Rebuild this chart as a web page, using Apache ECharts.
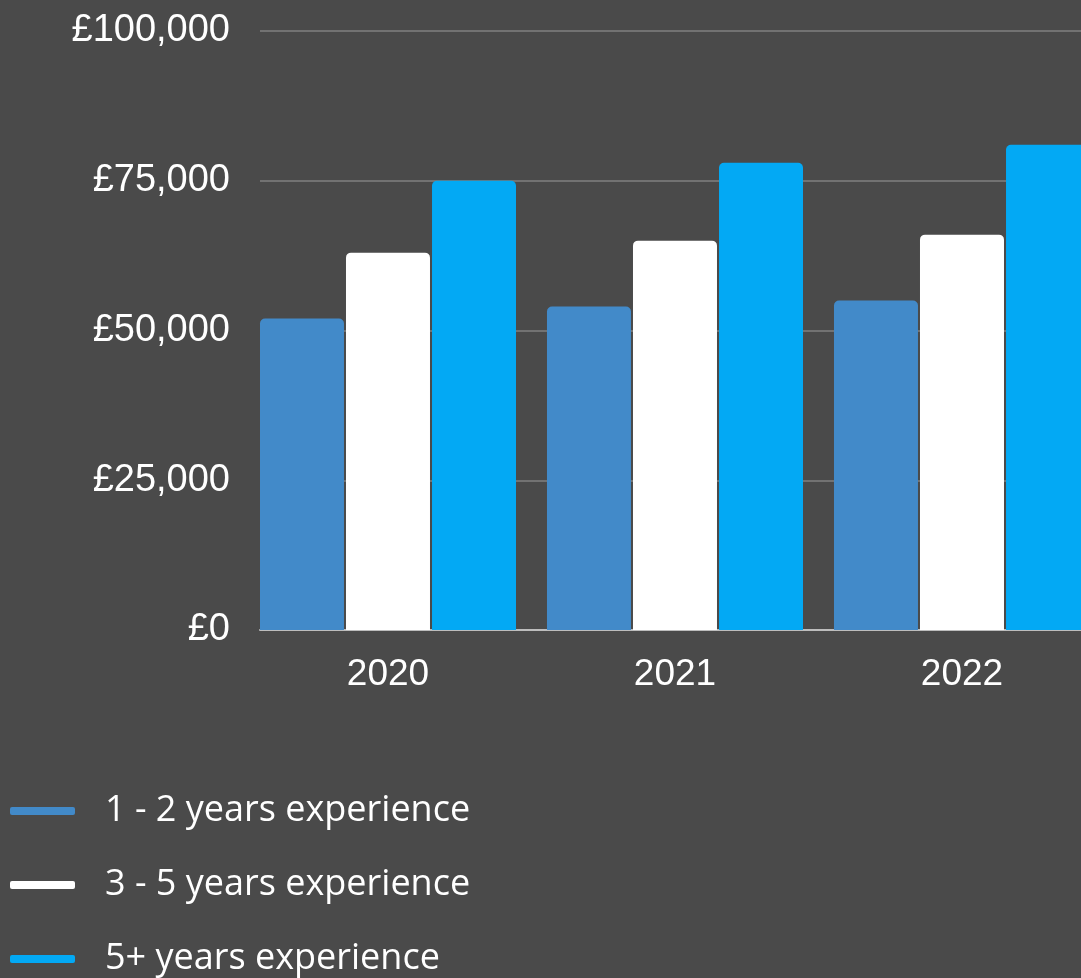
<!DOCTYPE html>
<html>
<head>
<meta charset="utf-8">
<script src="https://cdn.jsdelivr.net/npm/echarts@6/dist/echarts.min.js"></script>
<style>
  html, body { margin: 0; padding: 0; background: #4a4a4a; }
  #chart { width: 1081px; height: 978px; }
</style>
</head>
<body>
<div id="chart"></div>
<script>
// data
var years = ["2020", "2021", "2022"];
var junior = [52000, 54000, 55000];
var mid = [63000, 65000, 66000];
var senior = [75000, 78000, 81000];
var seriesNames = ["1 - 2 years experience", "3 - 5 years experience", "5+ years experience"];
var yTicks = [0, 25000, 50000, 75000, 100000];

var colors = ["#428ac9", "#ffffff", "#03a9f4"];

function pound(v) {
  return "£" + v.toLocaleString("en-GB");
}

var chart = echarts.init(document.getElementById("chart"));

function barSeries(name, data, color) {
  return {
    name: name,
    type: "bar",
    data: data,
    barWidth: 84,
    barGap: "2.4%",
    barCategoryGap: 0,
    itemStyle: { color: color, borderRadius: [5, 5, 0, 0] }
  };
}

chart.setOption({
  backgroundColor: "#4a4a4a",
  animation: false,
  // the plot runs past the right edge of the picture (last bar is cut off)
  grid: { left: 260, top: 31, width: 861, bottom: 348, containLabel: false, outerBoundsMode: "none" },
  xAxis: {
    type: "category",
    data: years,
    axisTick: { show: false },
    axisLine: { lineStyle: { color: "#bdbdbd", width: 2 } },
    axisLabel: {
      margin: 26,
      // group sits at left of band, so pull label back to group centre
      formatter: function (v) { return "{y|" + v + "}"; },
      rich: {
        y: { color: "#ffffff", fontSize: 37, fontFamily: "Liberation Sans", padding: [0, 31, 0, 0] }
      }
    }
  },
  yAxis: {
    type: "value",
    min: yTicks[0],
    max: yTicks[yTicks.length - 1],
    interval: 25000,
    axisLine: { show: false },
    axisTick: { show: false },
    splitLine: { lineStyle: { color: "#808080", width: 1.5 } },
    axisLabel: {
      color: "#ffffff", fontSize: 38, fontFamily: "Liberation Sans", margin: 30,
      formatter: pound
    }
  },
  legend: {
    data: seriesNames,
    orient: "vertical",
    left: 10,
    top: 791,
    height: 260,
    padding: 0,
    icon: "roundRect",
    itemWidth: 65,
    itemHeight: 8,
    itemGap: 34,
    textStyle: {
      color: "#ffffff", fontSize: 36, fontFamily: "Open Sans",
      lineHeight: 40, padding: [0, 0, 0, 25]
    }
  },
  series: [
    barSeries(seriesNames[0], junior, colors[0]),
    barSeries(seriesNames[1], mid, colors[1]),
    barSeries(seriesNames[2], senior, colors[2]),
    // empty spacer so each group sits at the left of its band
    {
      name: "spacer",
      type: "bar",
      data: [0, 0, 0],
      barWidth: 29,
      barCategoryGap: 0,
      silent: true,
      itemStyle: { opacity: 0 }
    }
  ]
});
</script>
</body>
</html>
